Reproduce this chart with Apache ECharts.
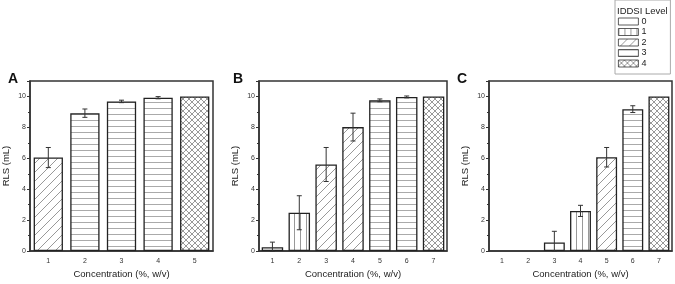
<!DOCTYPE html>
<html>
<head>
<meta charset="utf-8">
<script src="https://cdn.jsdelivr.net/npm/echarts@6/dist/echarts.min.js"></script>
<style>
  html, body { margin: 0; padding: 0; background: #fff; }
  #chart { width: 675px; height: 284px; }
</style>
</head>
<body>
<div id="chart"></div>
<script>
// panel data
const catsA = ['1', '2', '3', '4', '5'];
const valuesA = [6.05, 8.92, 9.68, 9.92, 10.0];
const errA = [0.65, 0.27, 0.08, 0.07, 0];
const levelsA = [2, 3, 3, 3, 4];

const catsB = ['1', '2', '3', '4', '5', '6', '7'];
const valuesB = [0.25, 2.48, 5.6, 8.02, 9.75, 9.97, 10.0];
const errB = [0.33, 1.1, 1.1, 0.9, 0.09, 0.06, 0];
const levelsB = [0, 1, 2, 2, 3, 3, 4];

const catsC = ['1', '2', '3', '4', '5', '6', '7'];
const valuesC = [0, 0, 0.56, 2.6, 6.07, 9.18, 10.0];
const errC = [0, 0, 0.72, 0.36, 0.63, 0.22, 0];
const levelsC = [0, 0, 0, 1, 2, 3, 4];

const levelNames = ['0', '1', '2', '3', '4'];
const panelLetters = ['A', 'B', 'C'];

const FONT = 'Liberation Sans, Arial, sans-serif';
const AXIS = '#333';

function pattern(level) {
  if (level === 0) return '#fff';
  const c = document.createElement('canvas');
  const ctx = c.getContext('2d');
  let s = 6;
  if (level === 2) s = 9;
  if (level === 3) s = 6;
  c.width = s; c.height = s;
  ctx.fillStyle = '#fff';
  ctx.fillRect(0, 0, s, s);
  ctx.lineWidth = 1;
  if (level === 1) {
    ctx.strokeStyle = '#999';
    ctx.beginPath(); ctx.moveTo(0.5, 0); ctx.lineTo(0.5, s); ctx.stroke();
  } else if (level === 2) {
    ctx.strokeStyle = '#999';
    ctx.beginPath();
    ctx.moveTo(0, s); ctx.lineTo(s, 0);
    ctx.moveTo(-1, 1); ctx.lineTo(1, -1);
    ctx.moveTo(s - 1, s + 1); ctx.lineTo(s + 1, s - 1);
    ctx.stroke();
  } else if (level === 3) {
    ctx.strokeStyle = '#aaa';
    ctx.beginPath(); ctx.moveTo(0, 0.5); ctx.lineTo(s, 0.5); ctx.stroke();
  } else if (level === 4) {
    ctx.strokeStyle = '#999';
    ctx.beginPath();
    ctx.moveTo(0, s); ctx.lineTo(s, 0);
    ctx.moveTo(0, 0); ctx.lineTo(s, s);
    ctx.stroke();
  }
  return { image: c, repeat: 'repeat' };
}
const fills = levelNames.map((n, i) => pattern(i));

const panels = [
  { cats: catsA, vals: valuesA, errs: errA, levels: levelsA, left: 29, right: 462, letterX: 3 },
  { cats: catsB, vals: valuesB, errs: errB, levels: levelsB, left: 259, right: 228, letterX: 228 },
  { cats: catsC, vals: valuesC, errs: errC, levels: levelsC, left: 489, right: 3, letterX: 452 }
];

const grid = [], xAxis = [], yAxis = [], series = [], titles = [];

panels.forEach((p, k) => {
  grid.push({
    left: p.left, right: p.right, top: 81, bottom: 28,
    show: true, borderColor: AXIS, borderWidth: 1.5, backgroundColor: 'transparent'
  });
  xAxis.push({
    type: 'category', gridIndex: k, data: p.cats,
    name: 'Concentration (%, w/v)', nameLocation: 'middle', nameGap: 17,
    nameTextStyle: { fontFamily: FONT, fontSize: 9.5, color: '#222' },
    axisLine: { lineStyle: { color: AXIS, width: 1.5 } },
    axisTick: { alignWithLabel: true, length: 3, lineStyle: { color: AXIS } },
    axisLabel: { fontFamily: FONT, fontSize: 7, color: '#333', margin: 6 }
  });
  yAxis.push({
    type: 'value', gridIndex: k, min: 0, max: 11, interval: 2,
    name: 'RLS (mL)', nameLocation: 'middle', nameGap: 19,
    nameTextStyle: { fontFamily: FONT, fontSize: 9.5, color: '#222' },
    axisLine: { show: true, lineStyle: { color: AXIS, width: 1.5 } },
    axisTick: { show: true, length: 3, lineStyle: { color: AXIS } },
    minorTick: { show: true, splitNumber: 2, length: 2, lineStyle: { color: AXIS } },
    splitLine: { show: false },
    axisLabel: { fontFamily: FONT, fontSize: 7, color: '#333', margin: 4, showMaxLabel: false }
  });
  titles.push({
    text: panelLetters[k], left: p.letterX, top: 67,
    textStyle: { fontFamily: FONT, fontSize: 14, fontWeight: 'bold', color: '#111' }
  });

  levelNames.forEach((name, lv) => {
    series.push({
      type: 'bar', name: name, xAxisIndex: k, yAxisIndex: k,
      barWidth: '80%', barGap: '-100%',
      data: p.vals.map((v, i) => (p.levels[i] === lv && v > 0 ? v : '-')),
      itemStyle: { color: fills[lv], borderColor: '#222', borderWidth: 1.3 },
      emphasis: { disabled: true },
      animation: false
    });
  });

  series.push({
    type: 'custom', xAxisIndex: k, yAxisIndex: k, z: 5,
    data: p.vals.map((v, i) => [i, v, p.errs[i]]),
    renderItem: function (params, api) {
      const e = api.value(2);
      if (!e) return null;
      const v = api.value(1);
      const top = api.coord([api.value(0), v + e]);
      const bot = api.coord([api.value(0), Math.max(0, v - e)]);
      const w = 2.5;
      const st = { stroke: '#333', lineWidth: 1 };
      return {
        type: 'group',
        children: [
          { type: 'line', shape: { x1: top[0], y1: top[1], x2: bot[0], y2: bot[1] }, style: st },
          { type: 'line', shape: { x1: top[0] - w, y1: top[1], x2: top[0] + w, y2: top[1] }, style: st },
          { type: 'line', shape: { x1: bot[0] - w, y1: bot[1], x2: bot[0] + w, y2: bot[1] }, style: st }
        ]
      };
    },
    animation: false,
    silent: true
  });
});

titles.push({
  text: 'IDDSI Level', left: 612, top: 1,
  textStyle: { fontFamily: FONT, fontSize: 9.5, fontWeight: 'normal', color: '#222' }
});

const chart = echarts.init(document.getElementById('chart'), null, { renderer: 'canvas' });
chart.setOption({
  backgroundColor: '#fff',
  animation: false,
  title: titles,
  legend: {
    data: levelNames,
    orient: 'vertical', left: 615, top: 0,
    padding: [17, 24, 6, 3],
    borderColor: '#aaa', borderWidth: 1,
    itemWidth: 20, itemHeight: 7, itemGap: 1.5,
    icon: 'rect',
    selectedMode: false,
    itemStyle: { borderWidth: 0.8, borderColor: '#333' },
    textStyle: { fontFamily: FONT, fontSize: 9, lineHeight: 9, color: '#222', padding: [0, 0, 0, -2] }
  },
  grid: grid,
  xAxis: xAxis,
  yAxis: yAxis,
  series: series
});
</script>
</body>
</html>
